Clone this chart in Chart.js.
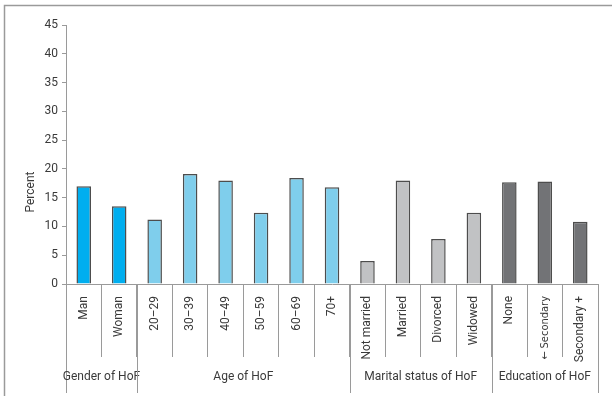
<!DOCTYPE html>
<html>
<head>
<meta charset="utf-8">
<script src="https://cdn.jsdelivr.net/npm/chart.js@4/dist/chart.umd.min.js"></script>
<style>
  html, body { margin: 0; padding: 0; background: #fff; }
  #wrap { position: relative; width: 612px; height: 399px; }
</style>
</head>
<body>
<div id="wrap"><canvas id="chart"></canvas></div>
<script>
/* ---------- DATA ---------- */
const categories = ['Man', 'Woman', '20–29', '30–39', '40–49', '50–59', '60–69', '70+',
  'Not married', 'Married', 'Divorced', 'Widowed', 'None', '← Secondary', 'Secondary +'];
const percentValues = [17.0, 13.5, 11.2, 19.1, 18.0, 12.4, 18.4, 16.8,
  4.0, 18.0, 7.8, 12.4, 17.7, 17.8, 10.8];
const groupNames = ['Gender of HoF', 'Age of HoF', 'Marital status of HoF', 'Education of HoF'];
const groupSizes = [2, 6, 4, 3];
const groupColors = ['#00AEEF', '#7FCEEC', '#C1C2C4', '#727376'];
const yTicks = [0, 5, 10, 15, 20, 25, 30, 35, 40, 45];

const FONT = 'Roboto';
const TEXT = '#3a3a3a';
const LINE = '#9a9a9a';

// one colour per bar, taken from its group
const barColors = [];
groupSizes.forEach((n, g) => { for (let i = 0; i < n; i++) barColors.push(groupColors[g]); });

/* ---------- FRAME, GROUPS, Y TITLE ---------- */
const extrasPlugin = {
  id: 'extras',
  afterDraw(chart) {
    const ctx = chart.ctx;
    const x = chart.scales.x;
    const area = chart.chartArea;
    const half = (x.getPixelForValue(1) - x.getPixelForValue(0)) / 2;
    ctx.save();

    // outer frame (top + left only)
    ctx.strokeStyle = LINE;
    ctx.lineWidth = 1.5;
    ctx.beginPath();
    ctx.moveTo(4.5, 396);
    ctx.lineTo(4.5, 5.5);
    ctx.lineTo(612, 5.5);
    ctx.stroke();

    // group separators and names
    ctx.lineWidth = 1;
    ctx.fillStyle = TEXT;
    ctx.font = '12px ' + FONT;
    ctx.textAlign = 'center';
    ctx.textBaseline = 'middle';
    let start = 0;
    groupSizes.forEach((n, g) => {
      const left = x.getPixelForValue(start) - half;
      const right = x.getPixelForValue(start + n - 1) + half;
      ctx.beginPath();
      ctx.moveTo(Math.round(left) + 0.5, area.bottom);
      ctx.lineTo(Math.round(left) + 0.5, 393);
      if (g === groupSizes.length - 1) {
        ctx.moveTo(Math.round(right) + 0.5, area.bottom);
        ctx.lineTo(Math.round(right) + 0.5, 393);
      }
      ctx.stroke();
      ctx.fillText(groupNames[g], (left + right) / 2, 377);
      start += n;
    });

    // y axis title
    ctx.translate(31, 192);
    ctx.rotate(-Math.PI / 2);
    ctx.fillText('Percent', 0, 0);
    ctx.restore();
  }
};

/* ---------- CHART ---------- */
new Chart(document.getElementById('chart'), {
  type: 'bar',
  data: {
    labels: categories,
    datasets: [{
      label: 'Percent',
      data: percentValues,
      backgroundColor: barColors,
      borderColor: '#4d4d4d',
      borderWidth: 1.5,
      barPercentage: 0.41,
      categoryPercentage: 1
    }]
  },
  options: {
    responsive: true,
    maintainAspectRatio: false,
    animation: false,
    layout: { padding: { left: 0, top: 25, right: 14, bottom: 0 } },
    plugins: { legend: { display: false }, tooltip: { enabled: false } },
    scales: {
      y: {
        min: 0, max: 45,
        afterFit: s => { s.width = 66; },
        afterBuildTicks: s => { s.ticks = yTicks.map(v => ({ value: v })); },
        border: { color: LINE, width: 1 },
        grid: { drawOnChartArea: false, tickLength: 4, color: LINE },
        ticks: { color: TEXT, padding: 4, font: { family: FONT, size: 12 } }
      },
      x: {
        afterFit: s => { s.height = 115; },
        border: { color: LINE, width: 1 },
        grid: { offset: true, drawOnChartArea: false, tickLength: 73, color: LINE },
        ticks: {
          color: TEXT, autoSkip: false, minRotation: 90, maxRotation: 90,
          padding: -61,
          // the arrow label needs a font that has the glyph
          font: c => categories[c.index] && categories[c.index].startsWith('←')
            ? { family: 'DejaVu Sans Condensed', size: 11 }
            : { family: FONT, size: 12 }
        }
      }
    }
  },
  plugins: [extrasPlugin]
});
</script>
</body>
</html>
